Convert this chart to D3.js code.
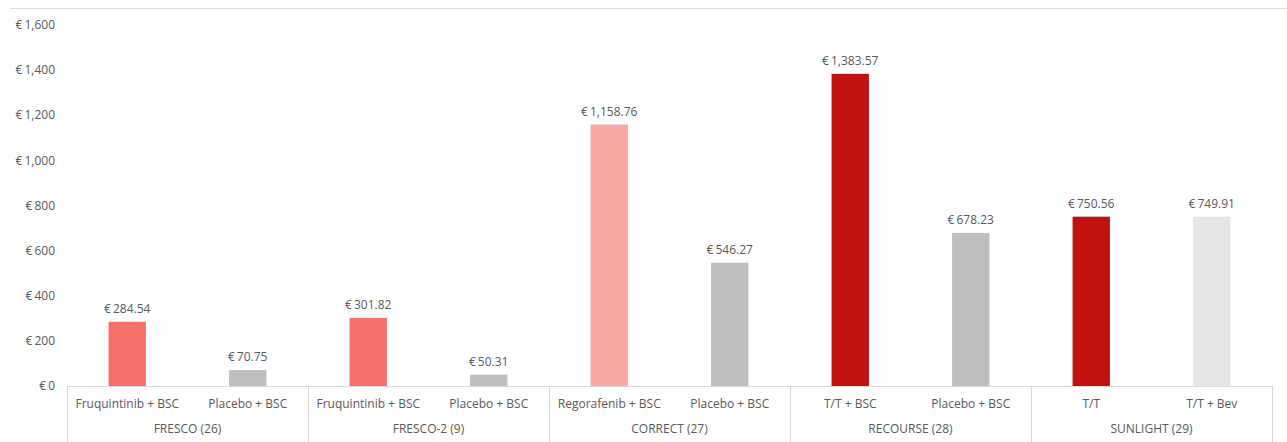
<!DOCTYPE html>
<html><head><meta charset="utf-8">
<script src="https://cdn.jsdelivr.net/npm/d3@7"></script>
<style>body{margin:0;background:#fff}svg{display:block;font-family:"Open Sans","Liberation Sans",sans-serif}</style>
</head><body><svg id="c" width="1287" height="442"></svg>
<script>
const groups = ["FRESCO (26)","FRESCO-2 (9)","CORRECT (27)","RECOURSE (28)","SUNLIGHT (29)"];
const categories = ["Fruquintinib + BSC","Placebo + BSC","Fruquintinib + BSC","Placebo + BSC","Regorafenib + BSC","Placebo + BSC","T/T + BSC","Placebo + BSC","T/T","T/T + Bev"];
const values = [284.54,70.75,301.82,50.31,1158.76,546.27,1383.57,678.23,750.56,749.91];
const colors = ["#F4706A","#BFBFBF","#F4706A","#BFBFBF","#F9A8A4","#BFBFBF","#C0120F","#BFBFBF","#C0120F","#E6E6E6"];
const yTicks = [0,200,400,600,800,1000,1200,1400,1600];

const svg = d3.select("#c");
const L = 67, R = 1272, T = 25, B = 386;
const x = d3.scaleBand().domain(d3.range(categories.length)).range([L,R]).paddingInner(0.69).paddingOuter(0.345);
const y = d3.scaleLinear().domain([0,1600]).range([B,T]);
const fmt = v => "€\u2009" + d3.format(",")(v);
const fmt2 = v => "€\u2009" + d3.format(",.2f")(v);
const txt = "#595959";

svg.append("line").attr("x1",10).attr("x2",1287).attr("y1",8.5).attr("y2",8.5).attr("stroke","#d9d9d9");

svg.append("g").selectAll("text").data(yTicks).join("text")
  .attr("x",55).attr("y",d=>y(d)).attr("dy","0.35em").attr("text-anchor","end")
  .attr("font-size",12).attr("fill",txt).text(fmt);

svg.append("g").selectAll("rect").data(values).join("rect")
  .attr("x",(d,i)=>x(i)).attr("width",x.bandwidth())
  .attr("y",d=>y(d)).attr("height",d=>B-y(d)).attr("fill",(d,i)=>colors[i]);

svg.append("g").selectAll("text").data(values).join("text")
  .attr("x",(d,i)=>x(i)+x.bandwidth()/2).attr("y",d=>y(d)-9)
  .attr("text-anchor","middle").attr("font-size",12).attr("fill",txt).text(fmt2);

// axis
svg.append("line").attr("x1",L).attr("x2",R).attr("y1",B+0.5).attr("y2",B+0.5).attr("stroke","#d9d9d9");
const gw = (R-L)/groups.length;
const seps = d3.range(groups.length+1).map(i=>L+i*gw);
svg.append("g").selectAll("line").data(seps).join("line")
  .attr("x1",d=>Math.round(d)+0.5).attr("x2",d=>Math.round(d)+0.5).attr("y1",B).attr("y2",442).attr("stroke","#d9d9d9");

svg.append("g").selectAll("text").data(categories).join("text")
  .attr("x",(d,i)=>x(i)+x.bandwidth()/2).attr("y",404).attr("dy","0.35em")
  .attr("text-anchor","middle").attr("font-size",12).attr("fill",txt).text(d=>d);

svg.append("g").selectAll("text").data(groups).join("text")
  .attr("x",(d,i)=>L+(i+0.5)*gw).attr("y",429).attr("dy","0.35em")
  .attr("text-anchor","middle").attr("font-size",12).attr("fill",txt).text(d=>d);
</script></body></html>
